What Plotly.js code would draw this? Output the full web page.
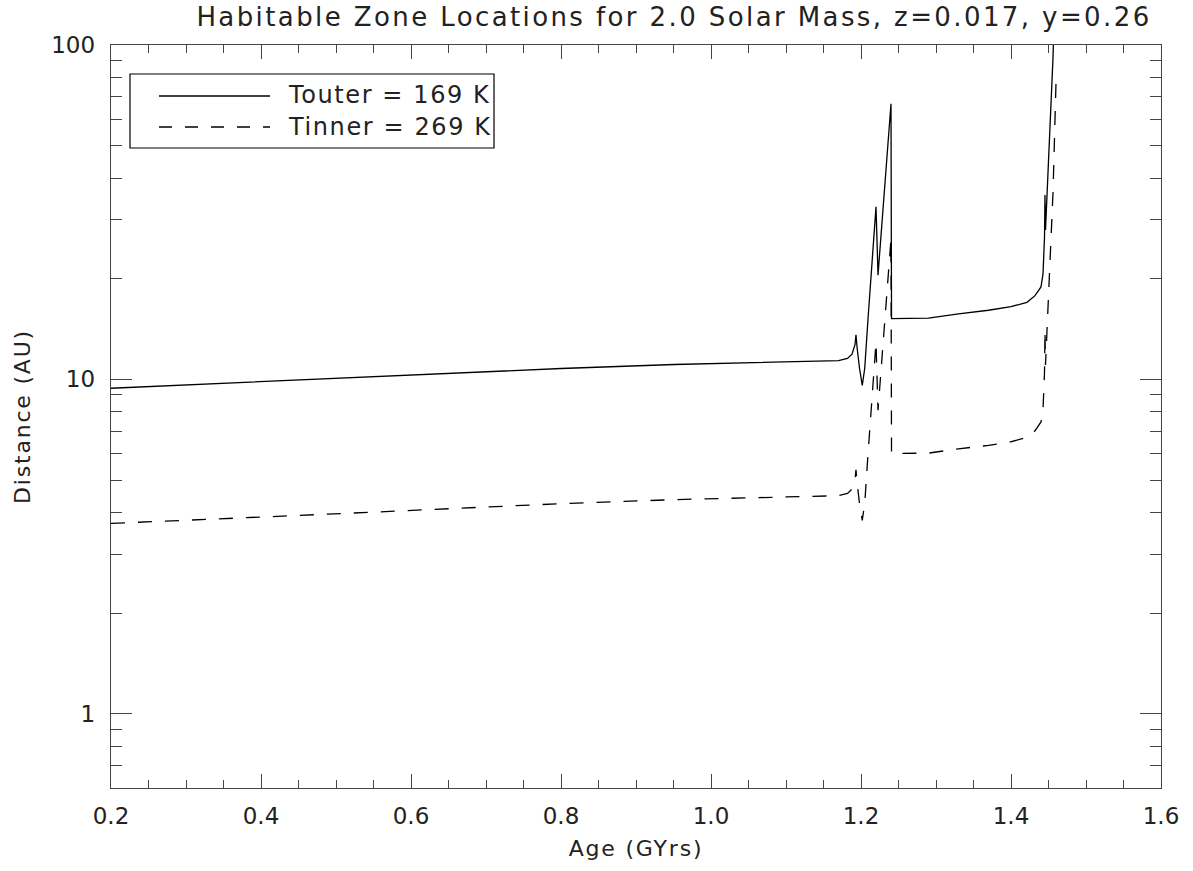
<!DOCTYPE html>
<html>
<head>
<meta charset="utf-8">
<script src="https://cdn.plot.ly/plotly-3.0.1.min.js"></script>
<style>
html,body{margin:0;padding:0;background:#fff;}
#chart{width:1193px;height:871px;}
#chart .gtitle{letter-spacing:2.4px;}
#chart .annotation-text{letter-spacing:1.6px;}
#chart .xtitle, #chart .ytitle{letter-spacing:1.8px;}
</style>
</head>
<body>
<div id="chart"></div>
<script>
// Age (GYrs)
var ageGyr = [0.2, 0.3, 0.44, 0.55, 0.685, 0.8, 0.951, 1.079, 1.13, 1.17, 1.182, 1.188, 1.192, 1.1933, 1.1947, 1.198, 1.2017, 1.205, 1.2093, 1.22, 1.2227, 1.24, 1.2407, 1.26, 1.29, 1.33, 1.37, 1.40, 1.4213, 1.432, 1.44, 1.4427, 1.4447, 1.4453, 1.446, 1.452, 1.456, 1.46];
// Outer edge distance (AU), T = 169 K
var touterAU = [9.41, 9.62, 9.91, 10.17, 10.5, 10.78, 11.08, 11.26, 11.32, 11.38, 11.55, 11.9, 12.7, 13.6, 12.5, 10.8, 9.6, 10.8, 15.1, 32.8, 20.5, 66.7, 15.2, 15.2, 15.25, 15.7, 16.1, 16.5, 17.0, 17.8, 18.9, 20.7, 26.7, 35.6, 28.0, 57, 91.5, 195];
// Inner edge distance (AU), T = 269 K
var tinnerAU = [3.71, 3.80, 3.91, 4.01, 4.14, 4.25, 4.37, 4.44, 4.47, 4.49, 4.56, 4.70, 5.01, 5.37, 4.93, 4.26, 3.79, 4.26, 5.96, 12.9, 8.09, 26.3, 6.0, 6.0, 6.02, 6.2, 6.35, 6.51, 6.71, 7.02, 7.46, 8.17, 10.5, 14.0, 11.05, 22.5, 36.1, 77];

var seriesNames = ['Touter = 169 K', 'Tinner = 269 K'];
var xTickVals = [0.2, 0.4, 0.6, 0.8, 1.0, 1.2, 1.4, 1.6];
var xTickText = ['0.2', '0.4', '0.6', '0.8', '1.0', '1.2', '1.4', '1.6'];
var yTickVals = [1, 10, 100];
var yTickText = ['1', '10', '100'];
var yMinorVals = [0.6, 0.7, 0.8, 0.9, 2, 3, 4, 5, 6, 7, 8, 9, 20, 30, 40, 50, 60, 70, 80, 90];
var titleText = 'Habitable Zone Locations for 2.0 Solar Mass, z=0.017, y=0.26';
var xTitle = 'Age (GYrs)';
var yTitle = 'Distance (AU)';

var FONT = 'DejaVu Sans, sans-serif';
var TXT = '#222';
var AX = '#444';

var traces = [
  {x: ageGyr, y: touterAU, type: 'scatter', mode: 'lines', name: seriesNames[0],
   line: {color: '#000', width: 1.3}},
  {x: ageGyr, y: tinnerAU, type: 'scatter', mode: 'lines', name: seriesNames[1],
   line: {color: '#000', width: 1.3, dash: '14px,13px'}}
];

// legend drawn as a box (plot-area paper coords)
var L = 111, W = 1050, B = 788, H = 743;
function px(x){ return (x - L) / W; }
function py(y){ return (B - y) / H; }

var shapes = [
  {type: 'rect', xref: 'paper', yref: 'paper', x0: px(130), x1: px(494), y0: py(148), y1: py(74),
   line: {color: '#000', width: 1.2}, fillcolor: 'rgba(0,0,0,0)'},
  {type: 'line', xref: 'paper', yref: 'paper', x0: px(159), x1: px(270), y0: py(96), y1: py(96),
   line: {color: '#000', width: 1.3}},
  {type: 'line', xref: 'paper', yref: 'paper', x0: px(159), x1: px(270), y0: py(127), y1: py(127),
   line: {color: '#000', width: 1.3, dash: '13px,13px'}}
];
var annotations = [
  {xref: 'paper', yref: 'paper', x: px(286), y: py(95), xanchor: 'left', yanchor: 'middle', align: 'left',
   text: seriesNames[0], showarrow: false, font: {family: FONT, size: 24, color: TXT}},
  {xref: 'paper', yref: 'paper', x: px(286), y: py(127), xanchor: 'left', yanchor: 'middle', align: 'left',
   text: seriesNames[1], showarrow: false, font: {family: FONT, size: 24, color: TXT}}
];

var layout = {
  width: 1193, height: 871,
  margin: {l: 111, r: 32, t: 45, b: 83, pad: 0},
  paper_bgcolor: '#fff', plot_bgcolor: '#fff',
  showlegend: false,
  font: {family: FONT, size: 23, color: TXT},
  title: {text: titleText, font: {family: FONT, size: 26, color: TXT},
          xref: 'container', yref: 'container', x: 674/1193, xanchor: 'center', y: 1 - 17/871, yanchor: 'middle'},
  xaxis: {
    range: [0.2, 1.6], tickmode: 'array', tickvals: xTickVals, ticktext: xTickText,
    ticks: 'inside', ticklen: 14, tickwidth: 1, tickcolor: AX,
    showline: true, linecolor: AX, linewidth: 1.3, mirror: 'allticks',
    showgrid: false, zeroline: false, ticklabelstandoff: 7,
    tickfont: {family: FONT, size: 23, color: TXT},
    minor: {dtick: 0.05, tick0: 0.2, ticks: 'inside', ticklen: 8, tickcolor: AX, showgrid: false},
    title: {text: xTitle, font: {family: FONT, size: 22, color: TXT}, standoff: 12}
  },
  yaxis: {
    type: 'log', range: [Math.log10(0.6), 2],
    tickmode: 'array', tickvals: yTickVals, ticktext: yTickText,
    ticks: 'inside', ticklen: 21, tickwidth: 1, tickcolor: AX,
    showline: true, linecolor: AX, linewidth: 1.3, mirror: 'allticks',
    showgrid: false, zeroline: false, ticklabelstandoff: 10,
    tickfont: {family: FONT, size: 23, color: TXT},
    minor: {tickmode: 'array', tickvals: yMinorVals, ticks: 'inside', ticklen: 11, tickcolor: AX, showgrid: false},
    title: {text: yTitle, font: {family: FONT, size: 22, color: TXT}, standoff: 14}
  },
  shapes: shapes,
  annotations: annotations
};

Plotly.newPlot('chart', traces, layout, {displayModeBar: false, staticPlot: true});
</script>
</body>
</html>
